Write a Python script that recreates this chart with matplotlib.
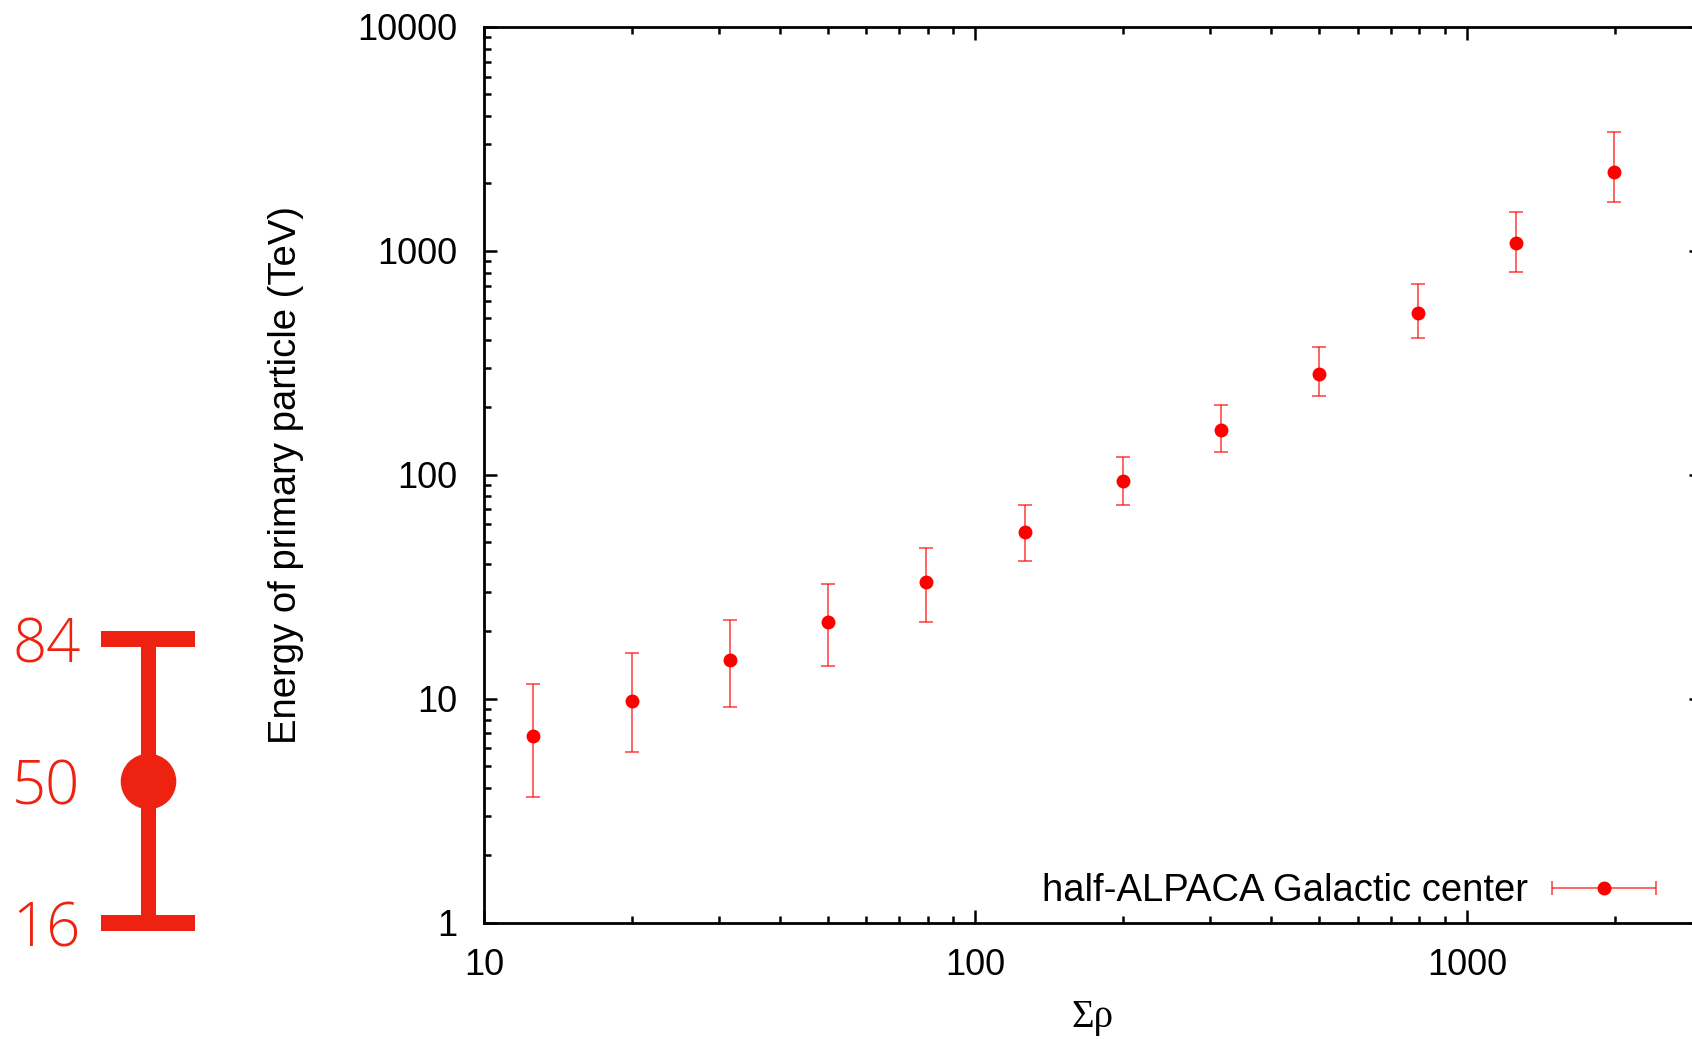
import matplotlib
matplotlib.use('Agg')
import matplotlib.pyplot as plt
from matplotlib.ticker import LogLocator, NullFormatter
from matplotlib.container import ErrorbarContainer
from matplotlib.legend_handler import HandlerErrorbar
import numpy as np

# data (median with 16/84 percentile band)
sum_rho = [12.6, 20.0, 31.6, 50.1, 79.4, 126, 200, 316, 501, 794, 1259, 1995]
energy_median = [6.8, 9.8, 14.9, 22.0, 33.2, 55.4, 94.3, 159, 283, 527, 1086, 2258]
energy_p84 = [11.6, 16.0, 22.5, 32.5, 46.9, 73.1, 120.5, 205, 374, 711, 1496, 3404]
energy_p16 = [3.65, 5.81, 9.17, 14.0, 22.0, 41.0, 73.1, 127, 224, 409, 804, 1655]

x_ticks = [10, 100, 1000]
x_ticklabels = ['10', '100', '1000']
y_ticks = [1, 10, 100, 1000, 10000]
y_ticklabels = ['1', '10', '100', '1000', '10000']

pct_levels = [16, 50, 84]
pct_labels = ['16', '50', '84']

series_label = 'half-ALPACA Galactic center'

plt.rcParams['font.family'] = ['Liberation Sans', 'DejaVu Sans']
FS = 26
FS_TXT = 27.5
W, H = 1692, 1039

fig = plt.figure(figsize=(W / 100, H / 100), dpi=100)

# main axes (right spine runs just past the picture edge)
x0, x1, y0, y1 = 484, 1701.5, 922.6, 27
ax = fig.add_axes([x0 / W, 1 - y0 / H, (x1 - x0) / W, (y0 - y1) / H])
ax.set_xscale('log')
ax.set_yscale('log')
ax.set_xlim(10, 3000)
ax.set_ylim(1, 10000)

med = np.array(energy_median)
yerr = [med - np.array(energy_p16), np.array(energy_p84) - med]
ax.errorbar(sum_rho, med, yerr=yerr, fmt='o', color='red', ms=9,
            ecolor=(1, 0, 0, 0.7), elinewidth=1.2, capsize=4.8, capthick=1.2)

# proxy for a gnuplot-like legend sample (horizontal bar)
proxy = ax.errorbar([np.nan], [np.nan], xerr=[1], fmt='o', color='red', ms=9,
                    ecolor=(1, 0, 0, 0.7), elinewidth=1.2, capsize=4.8, capthick=1.2,
                    label=series_label)
ax.legend(handles=[proxy], loc='center right', markerfirst=False, frameon=False,
          fontsize=FS_TXT, handlelength=2.72, handletextpad=0.62, borderpad=0,
          borderaxespad=0,
          bbox_to_anchor=((1656 - x0) / (x1 - x0), (y0 - 891) / (y0 - y1)),
          handler_map={ErrorbarContainer: HandlerErrorbar(xerr_size=1.36)})

ax.set_xticks(x_ticks, x_ticklabels)
ax.set_yticks(y_ticks, y_ticklabels)
ax.xaxis.set_minor_locator(LogLocator(base=10, subs=np.arange(2, 10)))
ax.yaxis.set_minor_locator(LogLocator(base=10, subs=np.arange(2, 10)))
ax.xaxis.set_minor_formatter(NullFormatter())
ax.yaxis.set_minor_formatter(NullFormatter())
ax.tick_params(which='both', direction='in', top=True, right=True, width=1.8,
               labelsize=FS, color='black')
ax.tick_params(which='major', length=9.4)
ax.tick_params(which='minor', length=4.8)
ax.tick_params(axis='x', pad=18)
ax.tick_params(axis='y', pad=19)
for s in ax.spines.values():
    s.set_linewidth(2)

ax.set_ylabel('Energy of primary particle (TeV)', fontsize=FS_TXT)
ax.yaxis.set_label_coords(-0.148, 0.5)
ax.set_xlabel('Σρ', fontsize=28, family=['Liberation Serif', 'DejaVu Serif'])
ax.xaxis.set_label_coords(0.5, -0.085)

# key to the percentile error bars, on the left
c = '#EE2210'
ax2 = fig.add_axes([100 / W, 1 - 950 / H, 96 / W, 350 / H])
ax2.errorbar([0], [pct_levels[1]],
             yerr=[[pct_levels[1] - pct_levels[0]], [pct_levels[2] - pct_levels[1]]],
             fmt='o', color=c, ms=39, elinewidth=10.8, capsize=33.8, capthick=11.5)
ax2.set_xlim(-1, 1)
ax2.set_ylim(9.54, 93.34)
ax2.set_xticks([])
ax2.set_yticks(pct_levels, pct_labels)
ax2.tick_params(axis='y', length=0, pad=14, labelsize=43, labelcolor=c)
for lab in ax2.get_yticklabels():
    lab.set_family(['Open Sans', 'DejaVu Sans'])
    lab.set_fontweight('light')
for s in ax2.spines.values():
    s.set_visible(False)
ax2.patch.set_visible(False)

fig.savefig('out.png', dpi=100)
